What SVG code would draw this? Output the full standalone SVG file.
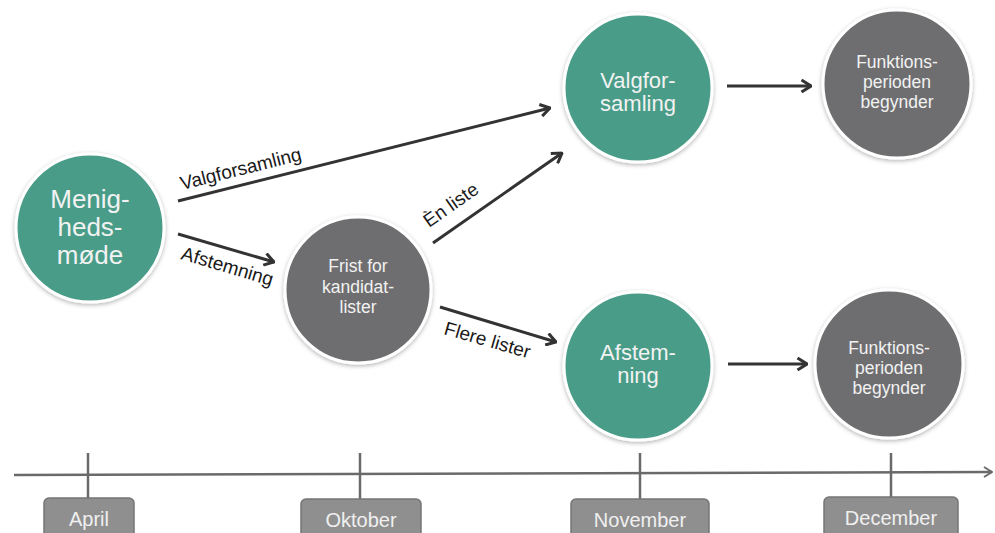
<svg xmlns="http://www.w3.org/2000/svg" width="995" height="533" viewBox="0 0 995 533">
<style>
.teal{fill:#4a9d88;stroke:#ffffff;stroke-width:3;filter:url(#sh)}
.gray{fill:#6e6e70;stroke:#ffffff;stroke-width:3;filter:url(#sh)}
.nt{font-family:"Liberation Sans",Arial,sans-serif;fill:#f2f2f2;text-anchor:middle}
.big{font-size:26px}
.mid{font-size:22px}
.sm{font-size:17.5px}
.lbl{font-family:"Liberation Sans",Arial,sans-serif;font-size:19px;fill:#1a1a1a}
.arr{stroke:#333333;stroke-width:3;fill:none;marker-end:url(#ah)}
.tl{stroke:#6a6a6a;stroke-width:2.5;fill:none}
.box{fill:#8f8f8f;stroke:#757575;stroke-width:1.5}
.bt{font-family:"Liberation Sans",Arial,sans-serif;font-size:20px;fill:#f0f0f0;text-anchor:middle}
</style>
<defs>
<filter id="sh" x="-20%" y="-20%" width="140%" height="140%">
<feDropShadow dx="0" dy="1.5" stdDeviation="2" flood-color="#000000" flood-opacity="0.3"/>
</filter>
<marker id="ah" viewBox="0 0 12 14" refX="11" refY="7" markerWidth="12" markerHeight="14" markerUnits="userSpaceOnUse" orient="auto">
<path d="M1.5,1 L11,7 L1.5,13" fill="none" stroke="#333333" stroke-width="3"/>
</marker>
<marker id="ah2" viewBox="0 0 10 12" refX="9" refY="6" markerWidth="10" markerHeight="12" markerUnits="userSpaceOnUse" orient="auto">
<path d="M1,1 L9,6 L1,11" fill="none" stroke="#6a6a6a" stroke-width="2"/>
</marker>
</defs>
<rect width="995" height="533" fill="#ffffff"/>

<g id="connectors">
<line class="arr" x1="178" y1="201" x2="550" y2="108"/>
<line class="arr" x1="178" y1="234" x2="274" y2="262"/>
<line class="arr" x1="433" y1="243" x2="562" y2="153"/>
<line class="arr" x1="440" y1="307" x2="556" y2="342"/>
<line class="arr" x1="727" y1="86" x2="811" y2="86"/>
<line class="arr" x1="728" y1="364" x2="807" y2="364"/>
<text class="lbl" transform="translate(182,190) rotate(-14)">Valgforsamling</text>
<text class="lbl" transform="translate(180,259) rotate(16.5)">Afstemning</text>
<text class="lbl" transform="translate(429,228) rotate(-35)">Èn liste</text>
<text class="lbl" transform="translate(443,334) rotate(16)">Flere lister</text>
</g>

<g id="menighedsmode">
<circle class="teal" cx="90" cy="228" r="74"/>
<text class="nt big" x="90" y="208">Menig-</text>
<text class="nt big" x="90" y="236">heds-</text>
<text class="nt big" x="90" y="264">møde</text>
</g>

<g id="frist">
<circle class="gray" cx="358" cy="290" r="73"/>
<text class="nt sm" x="358" y="272">Frist for</text>
<text class="nt sm" x="358" y="293">kandidat-</text>
<text class="nt sm" x="358" y="313">lister</text>
</g>

<g id="valgforsamling">
<circle class="teal" cx="638" cy="88" r="74"/>
<text class="nt mid" x="638" y="88">Valgfor-</text>
<text class="nt mid" x="638" y="111">samling</text>
</g>

<g id="funktion1">
<circle class="gray" cx="897" cy="84" r="74"/>
<text class="nt sm" x="897" y="68">Funktions-</text>
<text class="nt sm" x="897" y="88">perioden</text>
<text class="nt sm" x="897" y="108">begynder</text>
</g>

<g id="afstemning">
<circle class="teal" cx="638" cy="366" r="74"/>
<text class="nt mid" x="638" y="360">Afstem-</text>
<text class="nt mid" x="638" y="383">ning</text>
</g>

<g id="funktion2">
<circle class="gray" cx="889" cy="364" r="74"/>
<text class="nt sm" x="889" y="354">Funktions-</text>
<text class="nt sm" x="889" y="374">perioden</text>
<text class="nt sm" x="889" y="394">begynder</text>
</g>

<g id="timeline">
<line class="tl" x1="14" y1="475" x2="992" y2="472" marker-end="url(#ah2)"/>
<line class="tl" x1="88" y1="453" x2="88" y2="499" stroke-width="2"/>
<line class="tl" x1="360" y1="453" x2="360" y2="499" stroke-width="2"/>
<line class="tl" x1="640" y1="453" x2="640" y2="499" stroke-width="2"/>
<line class="tl" x1="891" y1="453" x2="891" y2="498" stroke-width="2"/>
</g>

<g id="april">
<rect class="box" x="44" y="498" width="90" height="42" rx="5"/>
<text class="bt" x="89" y="526">April</text>
</g>
<g id="oktober">
<rect class="box" x="301" y="499" width="120" height="42" rx="5"/>
<text class="bt" x="361" y="527">Oktober</text>
</g>
<g id="november">
<rect class="box" x="571" y="499" width="138" height="42" rx="5"/>
<text class="bt" x="640" y="527">November</text>
</g>
<g id="december">
<rect class="box" x="824" y="497" width="134" height="42" rx="5"/>
<text class="bt" x="891" y="525">December</text>
</g>
</svg>
